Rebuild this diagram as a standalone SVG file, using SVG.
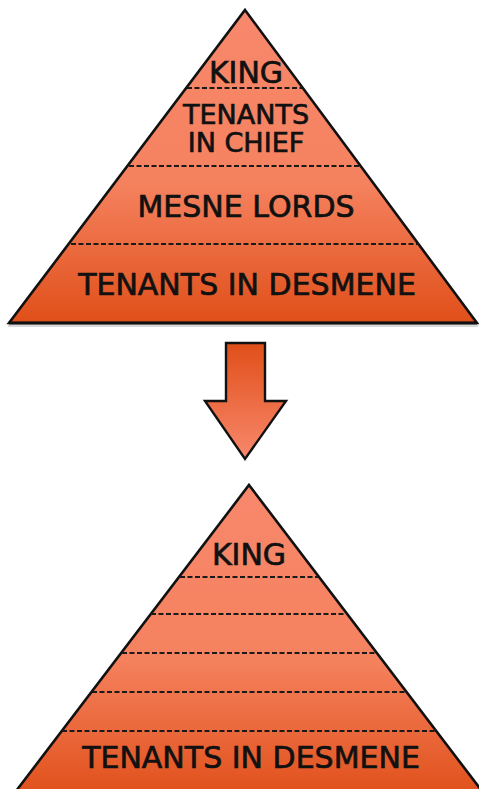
<svg xmlns="http://www.w3.org/2000/svg" width="479" height="789" viewBox="0 0 479 789">
<defs>
<linearGradient id="pyr" x1="0" y1="0" x2="0" y2="1">
<stop offset="0" stop-color="#f8886c"/>
<stop offset="0.55" stop-color="#f5825f"/>
<stop offset="1" stop-color="#e04f19"/>
</linearGradient>
<linearGradient id="arr" x1="0" y1="0" x2="0" y2="1">
<stop offset="0" stop-color="#e04f19"/>
<stop offset="1" stop-color="#f8886c"/>
</linearGradient>
</defs>
<style>
.tri{fill:url(#pyr);stroke:#111;stroke-width:2.6;stroke-linejoin:miter}
.dash{stroke:#1a1a1a;stroke-width:2.2;stroke-dasharray:5 2.5;fill:none}
.t{font-family:"DejaVu Sans",sans-serif;font-size:30px;fill:#111;stroke:#111;stroke-width:0.7;text-anchor:middle}
.s{font-size:27px}
</style>
<rect width="479" height="789" fill="#fff"/>
<g id="pyramid-before">
<line x1="8" y1="326" x2="478" y2="326" stroke="#ccc" stroke-width="1.5"/>
<polygon class="tri" points="245,10 477,323 9,323"/>
<line x1="9" y1="323" x2="477" y2="323" stroke="#111" stroke-width="3.2"/>
<line class="dash" x1="187" y1="88" x2="303" y2="88"/>
<line class="dash" x1="129" y1="166" x2="361" y2="166"/>
<line class="dash" x1="71" y1="244" x2="419" y2="244"/>
<text class="t" x="246" y="83">KING</text>
<text class="t s" x="246" y="124">TENANTS</text>
<text class="t s" x="246" y="152">IN CHIEF</text>
<text class="t" x="246" y="217">MESNE LORDS</text>
<text class="t" x="247" y="295">TENANTS IN DESMENE</text>
</g>
<g id="arrow">
<polygon points="226,343 265,343 265,401 286,401 245,459 205,401 226,401" fill="url(#arr)" stroke="#111" stroke-width="2.4"/>
</g>
<g id="pyramid-after">
<polygon class="tri" points="249,485 488,799 10,799"/>
<line class="dash" x1="180" y1="577" x2="318" y2="577"/>
<line class="dash" x1="151" y1="614" x2="347" y2="614"/>
<line class="dash" x1="122" y1="653" x2="376" y2="653"/>
<line class="dash" x1="92" y1="692" x2="406" y2="692"/>
<line class="dash" x1="62" y1="731" x2="436" y2="731"/>
<text class="t" x="249" y="565">KING</text>
<text class="t" x="251" y="768">TENANTS IN DESMENE</text>
</g>
</svg>
